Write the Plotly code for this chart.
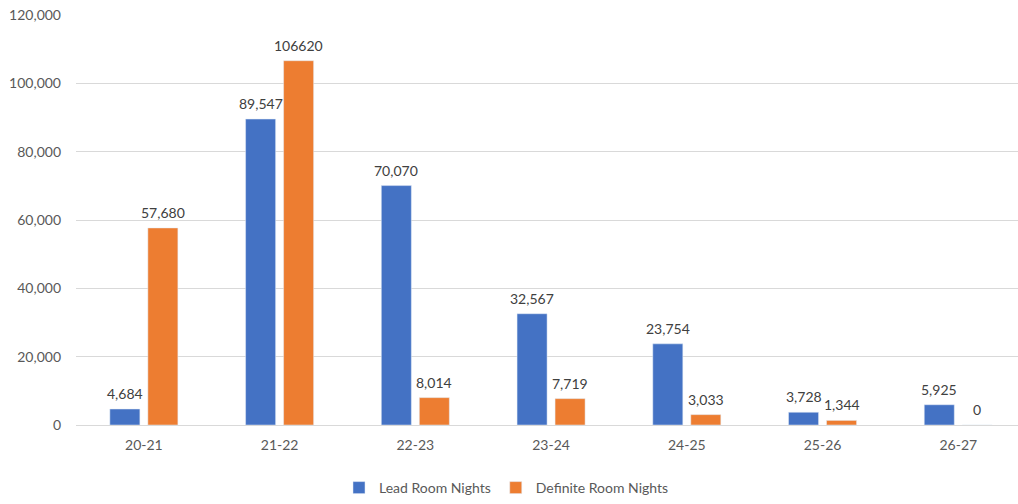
import plotly.graph_objects as go

seasons = ["20-21", "21-22", "22-23", "23-24", "24-25", "25-26", "26-27"]
lead_nights = [4684, 89547, 70070, 32567, 23754, 3728, 5925]
definite_nights = [57680, 106620, 8014, 7719, 3033, 1344, 0]
lead_labels = ["4,684", "89,547", "70,070", "32,567", "23,754", "3,728", "5,925"]
definite_labels = ["57,680", "106620", "8,014", "7,719", "3,033", "1,344", "0"]
y_ticks = [0, 20000, 40000, 60000, 80000, 100000, 120000]

FONT = "Lato, Calibri, sans-serif"
label_font = dict(family=FONT, size=14, color="#404040")

fig = go.Figure()
fig.add_trace(go.Bar(
    name="Lead Room Nights", x=seasons, y=lead_nights,
    marker=dict(color="#4472C4"),
))
fig.add_trace(go.Bar(
    name="Definite Room Nights", x=seasons, y=definite_nights,
    marker=dict(color="#ED7D31"),
))

# value labels above each bar, shifted onto its slot within the group
for values, labels, shift in ((lead_nights, lead_labels, -19),
                              (definite_nights, definite_labels, 19)):
    for cat, val, lab in zip(seasons, values, labels):
        fig.add_annotation(
            x=cat, y=val, text=lab, showarrow=False,
            xanchor="center", yanchor="bottom", xshift=shift, yshift=5,
            font=label_font,
        )

fig.update_layout(
    width=1018, height=504,
    margin=dict(l=76, r=0, t=15, b=77),
    paper_bgcolor="white", plot_bgcolor="white",
    barmode="group", bargap=0.44, bargroupgap=0.21,
    font=dict(family=FONT, size=13, color="#595959"),
    showlegend=True,
    legend=dict(
        orientation="h", x=0.457, xanchor="center", y=-0.155, yanchor="middle",
        font=dict(family=FONT, size=14, color="#595959"),
        itemwidth=30, tracegroupgap=0,
    ),
)
fig.update_xaxes(
    range=[-0.5, 6.44], showgrid=False, showline=False, zeroline=False,
    ticks="", ticklabelstandoff=10,
    tickfont=dict(family=FONT, size=14, color="#595959"),
)
fig.update_yaxes(
    range=[0, 120000], tickvals=y_ticks, tickformat=",d",
    showgrid=True, gridcolor="#D9D9D9", gridwidth=1,
    zeroline=True, zerolinecolor="#D9D9D9", zerolinewidth=1,
    showline=False, ticks="", ticklabelstandoff=14,
    tickfont=dict(family=FONT, size=14, color="#595959"),
)

fig.write_html("out.html")
